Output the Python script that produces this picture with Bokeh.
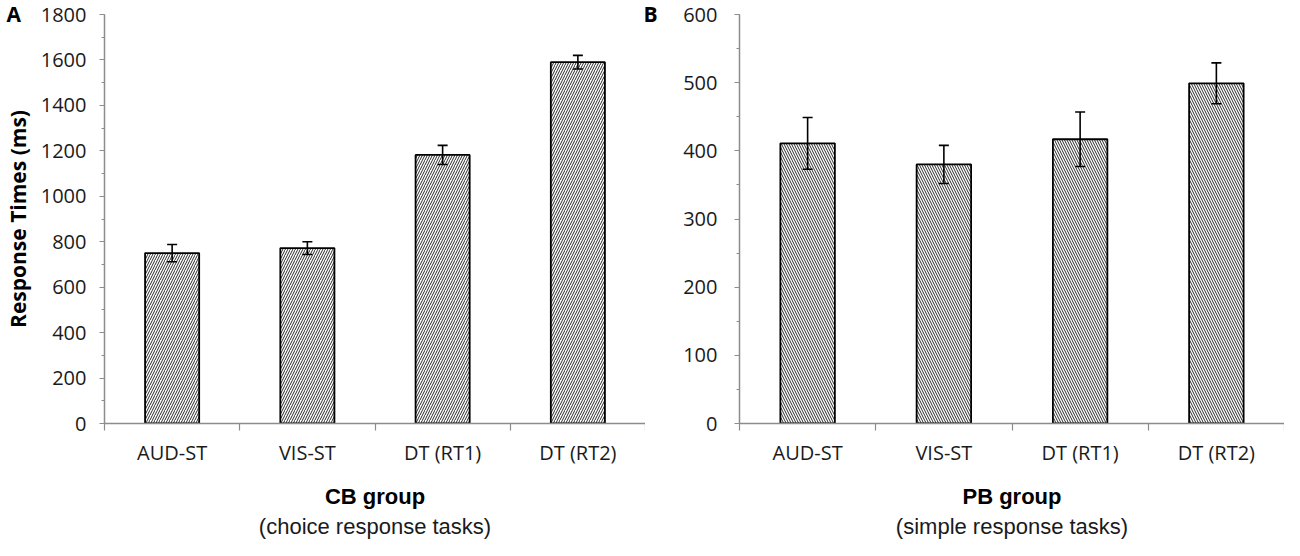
from bokeh.plotting import figure
from bokeh.layouts import row
from bokeh.models import (ColumnDataSource, Range1d, FixedTicker, Whisker, TeeHead, Title)
from bokeh.embed import file_html
from bokeh.resources import INLINE

categories = ["AUD-ST", "VIS-ST", "DT (RT1)", "DT (RT2)"]
cb_means = [750, 772, 1182, 1590]
cb_err = [38, 28, 42, 30]
pb_means = [411, 380, 417, 499]
pb_err = [38, 28, 40, 30]

FONT = "Open Sans"
TFONT = "Liberation Sans"
AXIS_COLOR = "#8c8c8c"


def make_panel(means, errs, ymax, major, minor, hatch, letter, group, sub,
               width, bl, letter_offset, ylabel=None, standoff=14):
    x = [i + 0.5 for i in range(len(categories))]
    lo = [m - e for m, e in zip(means, errs)]
    hi = [m + e for m, e in zip(means, errs)]
    src = ColumnDataSource(dict(x=x, top=means, lo=lo, hi=hi))
    p = figure(width=width, height=540, output_backend="svg", toolbar_location=None,
               x_range=Range1d(0, len(categories)), y_range=Range1d(0, ymax),
               min_border_left=bl, min_border_right=0, min_border_top=14,
               min_border_bottom=117)
    p.outline_line_color = None
    p.grid.grid_line_color = None
    p.background_fill_color = "white"

    # panel letter as the plot title, pulled left of the frame
    p.title.text = letter
    p.title.align = "left"
    p.title.offset = letter_offset
    p.title.standoff = -29
    p.title.vertical_align = "middle"
    p.title.text_font = FONT
    p.title.text_font_style = "bold"
    p.title.text_font_size = "21px"
    p.title.text_color = "black"

    p.vbar(x="x", top="top", bottom=0, width=0.4, source=src, fill_color="white",
           line_color="black", line_width=1.8, hatch_pattern=hatch, hatch_scale=5,
           hatch_weight=1, hatch_color="#2a2a2a")
    w = Whisker(base="x", lower="lo", upper="hi", source=src, line_width=1.6,
                line_color="black", level="overlay",
                upper_head=TeeHead(size=10, line_width=1.6, line_color="black"),
                lower_head=TeeHead(size=10, line_width=1.6, line_color="black"))
    p.add_layout(w)

    ya = p.yaxis[0]
    ya.ticker = FixedTicker(ticks=list(range(0, ymax + 1, major)),
                            minor_ticks=list(range(0, ymax + 1, minor)))
    ya.axis_line_color = AXIS_COLOR
    ya.axis_line_width = 1.5
    ya.major_tick_line_color = AXIS_COLOR
    ya.minor_tick_line_color = AXIS_COLOR
    ya.major_tick_line_width = 1.2
    ya.minor_tick_line_width = 1.2
    ya.major_tick_out = 5
    ya.major_tick_in = 0
    ya.minor_tick_out = 3
    ya.minor_tick_in = 0
    ya.major_label_text_font = FONT
    ya.major_label_text_font_size = "20px"
    ya.major_label_text_color = "#1a1a1a"
    ya.major_label_standoff = standoff
    if ylabel:
        ya.axis_label = ylabel
        ya.axis_label_text_font = FONT
        ya.axis_label_text_font_style = "bold"
        ya.axis_label_text_font_size = "21px"
        ya.axis_label_text_color = "black"
        ya.axis_label_standoff = 6

    xa = p.xaxis[0]
    xa.ticker = FixedTicker(ticks=x, minor_ticks=list(range(0, len(categories) + 1)))
    xa.major_label_overrides = {xx: c for xx, c in zip(x, categories)}
    xa.axis_line_color = AXIS_COLOR
    xa.axis_line_width = 1.5
    xa.major_tick_line_color = None
    xa.major_tick_out = 0
    xa.major_tick_in = 0
    xa.minor_tick_line_color = AXIS_COLOR
    xa.minor_tick_line_width = 1.2
    xa.minor_tick_out = 7
    xa.minor_tick_in = 0
    xa.major_label_text_font = FONT
    xa.major_label_text_font_size = "20px"
    xa.major_label_text_color = "#1a1a1a"
    xa.major_label_standoff = 8
    xa.axis_label = group
    xa.axis_label_text_font = TFONT
    xa.axis_label_text_font_style = "bold"
    xa.axis_label_text_font_size = "22px"
    xa.axis_label_text_color = "black"
    xa.axis_label_standoff = 15

    p.add_layout(Title(text=sub, align="center", text_font=TFONT, text_font_size="22px",
                       text_font_style="normal", text_color="#1a1a1a", standoff=0,
                       offset=0), "below")
    return p


p1 = make_panel(cb_means, cb_err, 1800, 200, 100, "/", "A", "CB group",
                "(choice response tasks)", 645, 100, -98,
                ylabel="Response Times (ms)", standoff=13)
p2 = make_panel(pb_means, pb_err, 600, 100, 50, "\\", "B", "PB group",
                "(simple response tasks)", 639, 94, -96, standoff=17)

layout = row(p1, p2, spacing=0)
open("out.html", "w").write(file_html(layout, INLINE))
